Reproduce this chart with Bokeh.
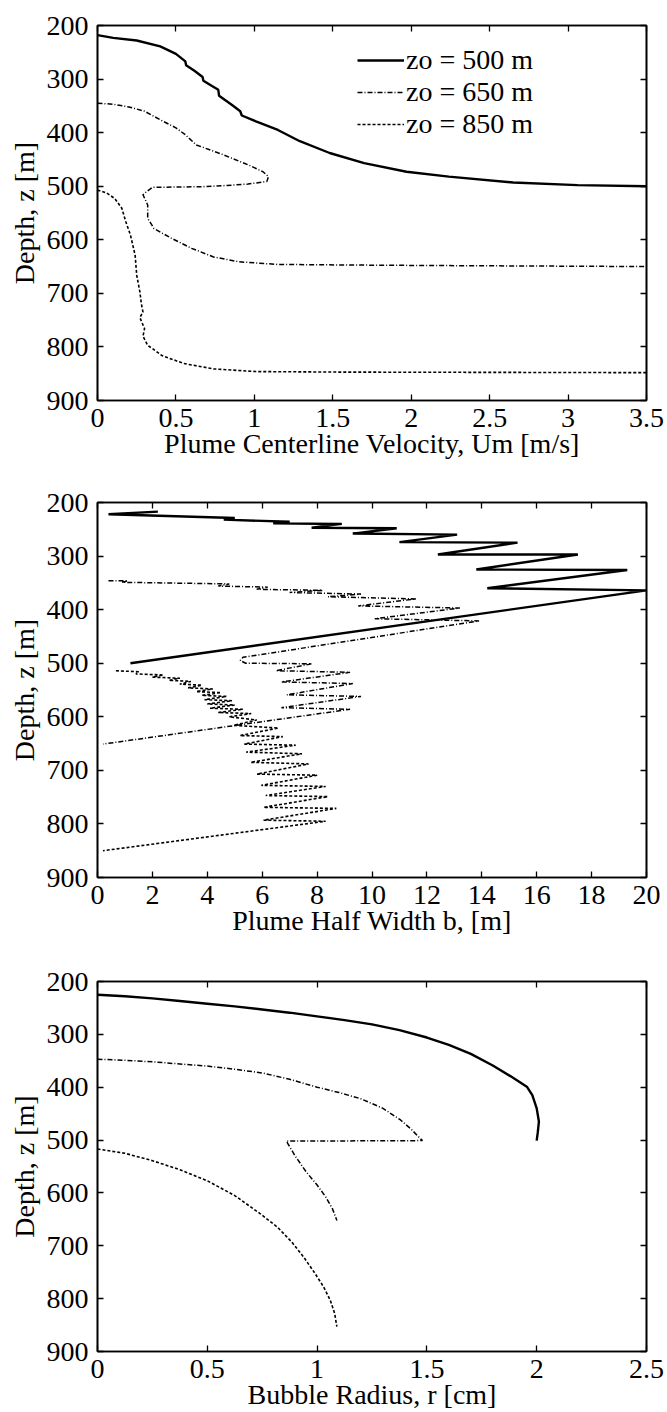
from bokeh.plotting import figure
from bokeh.models import (Range1d, LinearAxis, FixedTicker, CustomJSTickFormatter,
                          Legend, LegendItem)
from bokeh.layouts import column
from bokeh.embed import file_html
from bokeh.resources import INLINE

# ---------------- data ----------------
depth_ticks = [200, 300, 400, 500, 600, 700, 800, 900]
vel_ticks = [0, 0.5, 1, 1.5, 2, 2.5, 3, 3.5]
width_ticks = [0, 2, 4, 6, 8, 10, 12, 14, 16, 18, 20]
rad_ticks = [0, 0.5, 1, 1.5, 2, 2.5]
series_labels = ["zo = 500 m", "zo = 650 m", "zo = 850 m"]

# Panel 1: plume centerline velocity [m/s] vs depth [m]
vel_500 = [0.0, 0.1, 0.25, 0.4, 0.5, 0.56, 0.565, 0.62, 0.67, 0.675, 0.73, 0.77, 0.775,
           0.86, 0.91, 0.92, 1.01, 1.15, 1.29, 1.48, 1.70, 1.97, 2.24, 2.65, 3.06, 3.5]
vel_500_z = [218, 223, 228, 239, 253, 267, 274, 285, 296, 303, 313, 320, 331,
             349, 360, 368, 379, 395, 416, 438, 457, 473, 482, 493, 498, 500]
vel_650 = [0.0, 0.1, 0.2, 0.3, 0.4, 0.5, 0.56, 0.63, 0.8, 0.96, 1.055, 1.09, 1.08, 0.96,
           0.8, 0.66, 0.35, 0.3, 0.29, 0.32, 0.32, 0.36, 0.47, 0.6, 0.74, 0.9, 1.15, 1.56, 2.1, 3.5]
vel_650_z = [345, 347, 352, 360, 376, 391, 404, 423, 441, 460, 473, 482, 491, 496,
             499, 501, 502, 513, 516, 535, 560, 579, 597, 616, 632, 641, 646, 647, 648, 650]
vel_850 = [0.0, 0.06, 0.11, 0.155, 0.18, 0.21, 0.24, 0.25, 0.27, 0.28, 0.29, 0.27, 0.3,
           0.29, 0.32, 0.35, 0.41, 0.55, 0.74, 1.01, 1.56, 3.5]
vel_850_z = [507, 513, 523, 541, 566, 591, 629, 666, 697, 720, 735, 745, 766,
             780, 797, 803, 816, 831, 841, 846, 847, 848]

# Panel 2: plume half width b [m] vs depth [m]
hw_500 = [2.2, 0.4, 5.0, 4.6, 7.0, 6.4, 8.9, 7.8, 10.9, 9.3, 13.1, 11.0, 15.3, 12.4,
          17.5, 13.8, 19.3, 14.2, 20.0, 1.2]
hw_500_z = [217, 222, 229, 232, 236, 239, 240, 247, 248, 258, 260, 274, 275, 297,
            297, 325, 326, 360, 364, 500]
hw_650 = [0.4, 1.1, 0.9, 4.8, 4.4, 6.2, 5.8, 8.2, 7.0, 9.6, 8.4, 11.6, 9.5, 13.2, 10.1,
          13.9, 5.3, 5.2, 5.4, 7.8, 6.5, 9.2, 6.7, 9.3, 6.9, 9.6, 6.7, 9.2, 0.2]
hw_650_z = [346, 346, 349, 352, 356, 358, 362, 364, 368, 371, 376, 380, 393, 397, 417,
            421, 489, 495, 500, 501, 514, 517, 535, 538, 559, 562, 583, 586, 651]
hw_850 = [0.67, 1.5, 1.4, 2.4, 2.0, 3.0, 2.6, 3.4, 3.0, 3.8, 3.3, 4.2, 3.6, 4.5, 3.8, 4.7,
          3.9, 4.9, 4.0, 5.0, 4.1, 5.3, 4.4, 5.6, 4.8, 5.8, 4.96, 6.59, 5.19, 6.75,
          5.35, 7.22, 5.42, 7.45, 5.58, 7.69, 5.81, 8.0, 5.97, 8.31, 6.13, 8.39,
          6.05, 8.7, 6.05, 8.31, 0.2]
hw_850_z = [514, 516, 520, 522, 526, 528, 532, 534, 539, 541, 546, 548, 553, 555, 560, 562,
            568, 570, 576, 578, 584, 586, 592, 594, 600, 606, 616, 621, 635, 637,
            651, 653, 666, 669, 685, 688, 707, 709, 728, 730, 747, 749,
            769, 771, 793, 795, 850]

# Panel 3: bubble radius r [cm] vs depth [m]
rad_500 = [0.0, 0.125, 0.25, 0.375, 0.5, 0.625, 0.75, 0.875, 1.0, 1.125, 1.25, 1.375,
           1.5, 1.6, 1.7, 1.8, 1.88, 1.955, 1.98, 2.0, 2.01, 2.005, 2.0]
rad_500_z = [225, 228, 232, 237, 242, 247, 253, 259, 266, 273, 281, 292,
             306, 320, 337, 359, 379, 399, 415, 440, 465, 485, 501]
rad_650 = [0.0, 0.125, 0.25, 0.375, 0.5, 0.625, 0.75, 0.875, 1.0, 1.1, 1.2, 1.3, 1.38,
           1.43, 1.46, 1.48, 0.86, 0.9, 0.95, 1.0, 1.04, 1.07, 1.09]
rad_650_z = [347, 349, 352, 356, 360, 366, 373, 385, 400, 410, 422, 440, 462,
             480, 493, 501, 502, 530, 560, 585, 608, 630, 652]
rad_850 = [0.0, 0.125, 0.25, 0.375, 0.5, 0.625, 0.74, 0.82, 0.885, 0.94, 0.99, 1.03,
           1.06, 1.08, 1.09]
rad_850_z = [517, 525, 539, 556, 577, 605, 639, 665, 693, 722, 752, 778, 803, 828, 853]

# ---------------- styling ----------------
FONT = "Times New Roman"
FS = "28px"
STYLES = [dict(line_dash="solid", line_width=2.4),
          dict(line_dash="5 2 1 2", line_width=1.5),
          dict(line_dash="3 2", line_width=1.6)]

blank = "return ''"
plain = "return String(tick)"


def style_axis(ax):
    ax.axis_line_color = "black"
    ax.axis_line_width = 1.6
    ax.major_tick_line_color = "black"
    ax.major_tick_line_width = 1.3
    ax.major_tick_in = 6
    ax.major_tick_out = 0
    ax.minor_tick_line_color = None
    ax.major_label_text_font = FONT
    ax.major_label_text_font_size = FS
    ax.major_label_text_color = "black"
    ax.axis_label_text_font = FONT
    ax.axis_label_text_font_size = FS
    ax.axis_label_text_font_style = "normal"
    ax.axis_label_text_color = "black"


def make_fig(height, top, bottom, xmax, xticks, xlabel):
    p = figure(width=667, height=height, x_range=Range1d(0, xmax), y_range=Range1d(900, 200),
               output_backend="svg", toolbar_location=None,
               min_border_left=97, min_border_right=21, min_border_top=top,
               min_border_bottom=bottom, x_axis_label=xlabel, y_axis_label="Depth, z [m]")
    p.grid.visible = False
    p.outline_line_color = "black"
    p.outline_line_width = 1.6
    p.xaxis.ticker = FixedTicker(ticks=xticks)
    p.yaxis.ticker = FixedTicker(ticks=depth_ticks)
    p.xaxis.formatter = CustomJSTickFormatter(code=plain)
    p.yaxis.formatter = CustomJSTickFormatter(code=plain)
    p.xaxis.major_label_standoff = 8
    p.xaxis.axis_label_standoff = -2
    p.yaxis.major_label_standoff = 9
    p.yaxis.axis_label_standoff = 4
    style_axis(p.xaxis[0])
    style_axis(p.yaxis[0])
    right = LinearAxis(ticker=FixedTicker(ticks=depth_ticks),
                       formatter=CustomJSTickFormatter(code=blank))
    topax = LinearAxis(ticker=FixedTicker(ticks=xticks),
                       formatter=CustomJSTickFormatter(code=blank))
    style_axis(right)
    style_axis(topax)
    p.add_layout(right, "right")
    p.add_layout(topax, "above")
    return p


p1 = make_fig(477, 25, 77, 3.5, vel_ticks, "Plume Centerline Velocity, Um [m/s]")
r1 = p1.line(vel_500, vel_500_z, color="black", **STYLES[0])
r2 = p1.line(vel_650, vel_650_z, color="black", **STYLES[1])
r3 = p1.line(vel_850, vel_850_z, color="black", **STYLES[2])
legend = Legend(items=[LegendItem(label=series_labels[0], renderers=[r1]),
                       LegendItem(label=series_labels[1], renderers=[r2]),
                       LegendItem(label=series_labels[2], renderers=[r3])],
                location=(260, 260), label_text_font=FONT, label_text_font_size=FS,
                label_text_color="black", label_text_line_height=0.9,
                glyph_width=47, glyph_height=20, label_height=20, spacing=-4, padding=0,
                margin=0, label_standoff=2, background_fill_alpha=0,
                border_line_color=None)
p1.add_layout(legend)

p2 = make_fig(477, 25, 77, 20, width_ticks, "Plume Half Width b, [m]")
p2.line(hw_500, hw_500_z, color="black", **STYLES[0])
p2.line(hw_650, hw_650_z, color="black", **STYLES[1])
p2.line(hw_850, hw_850_z, color="black", **STYLES[2])

p3 = make_fig(458, 27, 59, 2.5, rad_ticks, "Bubble Radius, r [cm]")
p3.line(rad_500, rad_500_z, color="black", **STYLES[0])
p3.line(rad_650, rad_650_z, color="black", **STYLES[1])
p3.line(rad_850, rad_850_z, color="black", **STYLES[2])

layout = column(p1, p2, p3, spacing=0)
open("out.html", "w").write(file_html(layout, INLINE))
